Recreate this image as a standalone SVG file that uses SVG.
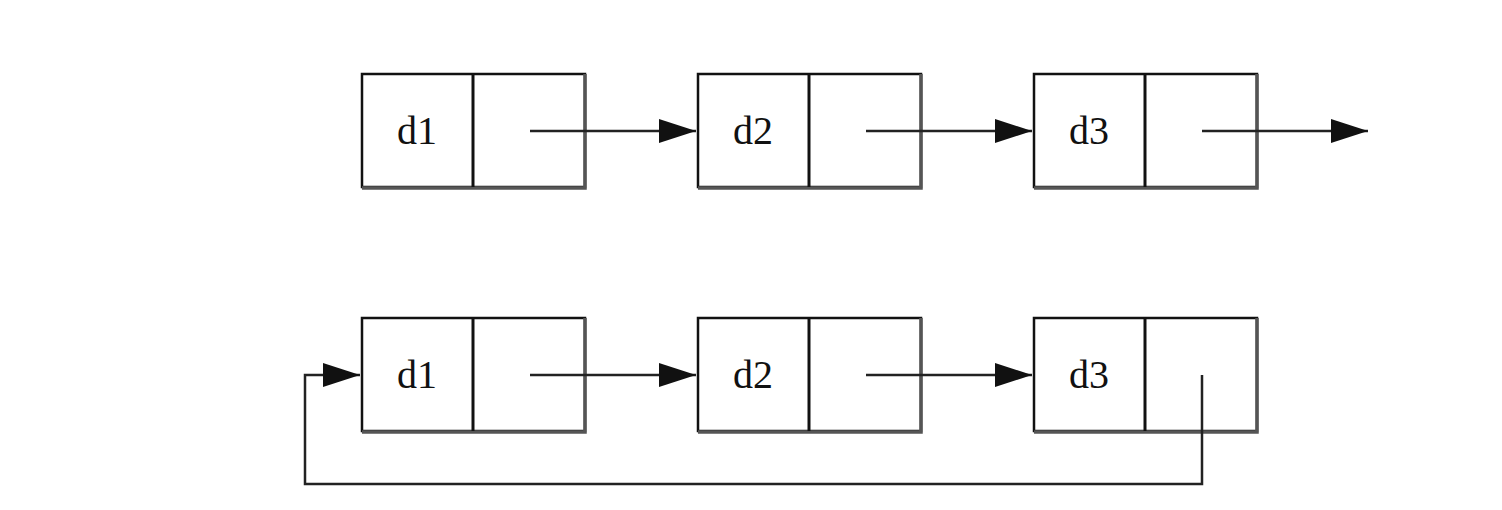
<svg xmlns="http://www.w3.org/2000/svg" width="1502" height="510" viewBox="0 0 1502 510">
<style>
.box{fill:#fff;stroke:#111;stroke-width:2.5}
.sh{fill:none;stroke:#555;stroke-width:3.5}
.div{stroke:#111;stroke-width:3}
.lbl{font-family:"Liberation Serif","DejaVu Serif",serif;font-size:40px;fill:#111;text-anchor:middle}
.ln{fill:none;stroke:#222;stroke-width:2.5}
</style>
<defs>
<marker id="ah" markerUnits="userSpaceOnUse" markerWidth="40" markerHeight="26" refX="37" refY="12" orient="auto">
<path d="M0,0 L37,12 L0,24 Z" fill="#111"/>
</marker>
</defs>
<rect width="1502" height="510" fill="#fff"/>
<g id="top-d1"><rect class="box" x="362" y="74" width="223" height="113"/><path class="sh" d="M585,74 V188 H362"/><line class="div" x1="473" y1="74" x2="473" y2="187"/><text class="lbl" x="417" y="144">d1</text></g>
<g id="top-d2"><rect class="box" x="698" y="74" width="223" height="113"/><path class="sh" d="M921,74 V188 H698"/><line class="div" x1="809" y1="74" x2="809" y2="187"/><text class="lbl" x="753" y="144">d2</text></g>
<g id="top-d3"><rect class="box" x="1034" y="74" width="223" height="113"/><path class="sh" d="M1257,74 V188 H1034"/><line class="div" x1="1145" y1="74" x2="1145" y2="187"/><text class="lbl" x="1089" y="144">d3</text></g>
<g id="bot-d1"><rect class="box" x="362" y="318" width="223" height="113"/><path class="sh" d="M585,318 V432 H362"/><line class="div" x1="473" y1="318" x2="473" y2="431"/><text class="lbl" x="417" y="388">d1</text></g>
<g id="bot-d2"><rect class="box" x="698" y="318" width="223" height="113"/><path class="sh" d="M921,318 V432 H698"/><line class="div" x1="809" y1="318" x2="809" y2="431"/><text class="lbl" x="753" y="388">d2</text></g>
<g id="bot-d3"><rect class="box" x="1034" y="318" width="223" height="113"/><path class="sh" d="M1257,318 V432 H1034"/><line class="div" x1="1145" y1="318" x2="1145" y2="431"/><text class="lbl" x="1089" y="388">d3</text></g>
<g id="connectors">
<line class="ln" x1="530" y1="131" x2="696" y2="131" marker-end="url(#ah)"/>
<line class="ln" x1="866" y1="131" x2="1032" y2="131" marker-end="url(#ah)"/>
<line class="ln" x1="1202" y1="131" x2="1368" y2="131" marker-end="url(#ah)"/>
<line class="ln" x1="530" y1="375" x2="696" y2="375" marker-end="url(#ah)"/>
<line class="ln" x1="866" y1="375" x2="1032" y2="375" marker-end="url(#ah)"/>
<path class="ln" d="M1202,375 V484 H305 V375 H360" marker-end="url(#ah)"/>
</g>
</svg>
